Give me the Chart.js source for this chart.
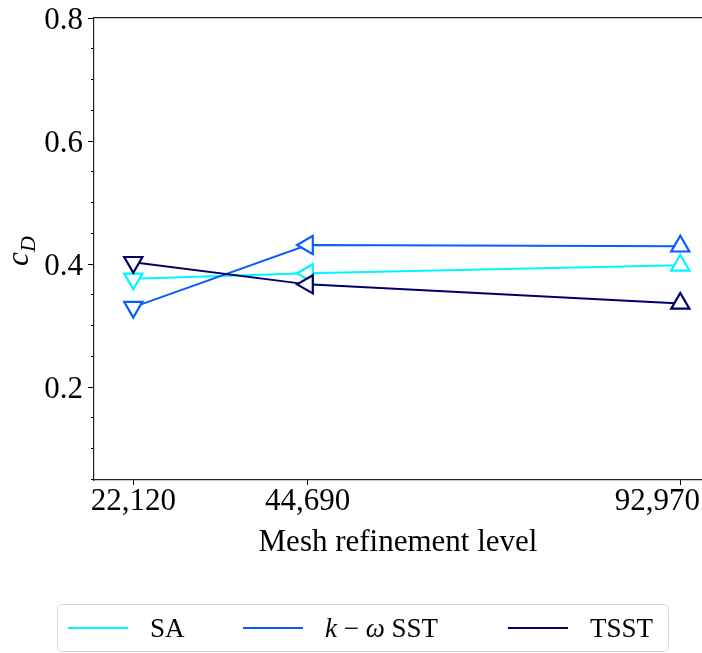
<!DOCTYPE html>
<html>
<head>
<meta charset="utf-8">
<script src="https://cdn.jsdelivr.net/npm/chart.js@4.4.1/dist/chart.umd.min.js"></script>
<style>
  html, body { margin: 0; padding: 0; background: #fff; }
  #wrap { position: relative; width: 702px; height: 653px; overflow: hidden; }
  #legend {
    position: absolute; left: 57px; top: 604px; width: 610px; height: 46px;
    border: 1px solid #d8d8d8; border-radius: 5px; background: #fff;
    font-family: "Liberation Serif", "DejaVu Serif", serif; font-size: 27px; color: #000;
  }
  .item { position: absolute; top: 0; height: 46px; display: flex; align-items: center; white-space: nowrap; }
  .swatch { width: 60px; height: 2px; margin-right: 22px; }
</style>
</head>
<body>
<div id="wrap">
  <canvas id="cd" width="702" height="653"></canvas>
  <div id="legend"></div>
</div>
<script>
// mesh sizes (cells) and drag coefficient per turbulence model
const meshLevels = [22120, 44690, 92970];
const saValues   = [0.376, 0.385, 0.398];
const sstValues  = [0.330, 0.431, 0.429];
const tsstValues = [0.403, 0.367, 0.336];

const seriesNames  = ["SA", "k \u2212 \u03c9 SST", "TSST"];
const seriesColors = ["#00f5ff", "#0a5cff", "#00006b"];

const yMajorTicks = [0.2, 0.4, 0.6, 0.8];
const yMinorTicks = [0.05, 0.1, 0.15, 0.25, 0.3, 0.35, 0.45, 0.5, 0.55, 0.65, 0.7, 0.75];

const serif = "'Liberation Serif', 'DejaVu Serif', serif";
const markerRotation = [180, -90, 0]; // v, <, ^

const isMajor = v => yMajorTicks.some(m => Math.abs(m - v) < 1e-6);

function makeSet(i, values) {
    return {
        label: seriesNames[i],
        data: meshLevels.map((m, j) => ({ x: m, y: values[j] })),
        borderColor: seriesColors[i],
        borderWidth: 2,
        pointStyle: "triangle",
        pointRotation: markerRotation,
        pointRadius: 10.5,
        pointHoverRadius: 10.5,
        pointBorderWidth: 2.2,
        pointBackgroundColor: "#fff",
        pointBorderColor: seriesColors[i],
        tension: 0,
        order: 3 - i
    };
}

// y label "c_D" and x tick labels (last one kept inside the picture)
const extraText = {
    id: "extraText",
    afterDraw(chart) {
        const ctx = chart.ctx;
        const xs = chart.scales.x;
        ctx.save();
        ctx.fillStyle = "#000";
        ctx.font = "31px " + serif;
        ctx.textAlign = "center";
        ctx.textBaseline = "top";
        meshLevels.forEach(m => {
            const txt = m.toLocaleString("en-US");
            const w = ctx.measureText(txt).width;
            let px = xs.getPixelForValue(m);
            px = Math.min(px, chart.width - 2 - w / 2);
            ctx.fillText(txt, px, 486);
        });
        ctx.restore();

        ctx.save();
        ctx.translate(28, 252);
        ctx.rotate(-Math.PI / 2);
        ctx.fillStyle = "#000";
        ctx.textBaseline = "alphabetic";
        ctx.textAlign = "left";
        ctx.font = "italic 31px " + serif;
        ctx.fillText("c", -14, 0);
        ctx.font = "italic 22px " + serif;
        ctx.fillText("D", 0, 7);
        ctx.restore();
    }
};

new Chart(document.getElementById("cd"), {
    type: "line",
    data: {
        datasets: [makeSet(0, saValues), makeSet(1, sstValues), makeSet(2, tsstValues)]
    },
    options: {
        responsive: false,
        animation: false,
        devicePixelRatio: 1,
        layout: { autoPadding: false, padding: { top: 18, left: 0, right: 0, bottom: 0 } },
        plugins: { legend: { display: false }, tooltip: { enabled: false } },
        scales: {
            x: {
                type: "linear",
                position: "bottom",
                min: 17030,
                max: 95780,
                afterBuildTicks: s => { s.ticks = meshLevels.map(v => ({ value: v })); },
                afterFit: s => { s.height = 173; s.paddingLeft = 0; s.paddingRight = 0; },
                ticks: { display: false, autoSkip: false },
                grid: { drawOnChartArea: false, drawTicks: true, tickLength: 5, tickColor: "#000", tickWidth: 1 },
                border: { display: true, color: "#222", width: 1.2 },
                title: {
                    display: true,
                    text: "Mesh refinement level",
                    color: "#000",
                    font: { family: serif, size: 31 },
                    padding: { top: 0, bottom: 92 }
                }
            },
            xTop: {
                type: "linear",
                position: "top",
                min: 17030,
                max: 95780,
                afterFit: s => { s.height = 0; s.paddingLeft = 0; s.paddingRight = 0; },
                ticks: { display: false },
                grid: { display: false },
                border: { display: true, color: "#222", width: 1.2 }
            },
            y: {
                min: 0.049,
                max: 0.8,
                afterBuildTicks: s => {
                    s.ticks = yMinorTicks.concat(yMajorTicks).sort((a, b) => a - b).map(v => ({ value: v }));
                },
                afterFit: s => { s.width = 94; s.paddingTop = 0; s.paddingBottom = 0; },
                ticks: {
                    autoSkip: false,
                    color: "#000",
                    font: { family: serif, size: 31 },
                    padding: 5,
                    labelOffset: 3,
                    callback: v => isMajor(v) ? v.toFixed(1) : ""
                },
                grid: {
                    drawOnChartArea: false,
                    drawTicks: true,
                    tickLength: 6,
                    tickColor: "#000",
                    tickWidth: 1,
                    tickBorderDash: c => (c.tick && !isMajor(c.tick.value)) ? [0, 3, 3, 20] : []
                },
                border: { display: true, color: "#222", width: 1.2 }
            }
        }
    },
    plugins: [extraText]
});

// legend: line samples only, as in the figure
const legend = document.getElementById("legend");
const legendLeft = [10, 185, 450];
seriesNames.forEach((name, i) => {
    const item = document.createElement("div");
    item.className = "item";
    item.style.left = legendLeft[i] + "px";
    const sw = document.createElement("span");
    sw.className = "swatch";
    sw.style.background = seriesColors[i];
    const lab = document.createElement("span");
    lab.innerHTML = name.replace("k", "<i>k</i>").replace("\u03c9", "<i>\u03c9</i>");
    item.appendChild(sw);
    item.appendChild(lab);
    legend.appendChild(item);
});
</script>
</body>
</html>
